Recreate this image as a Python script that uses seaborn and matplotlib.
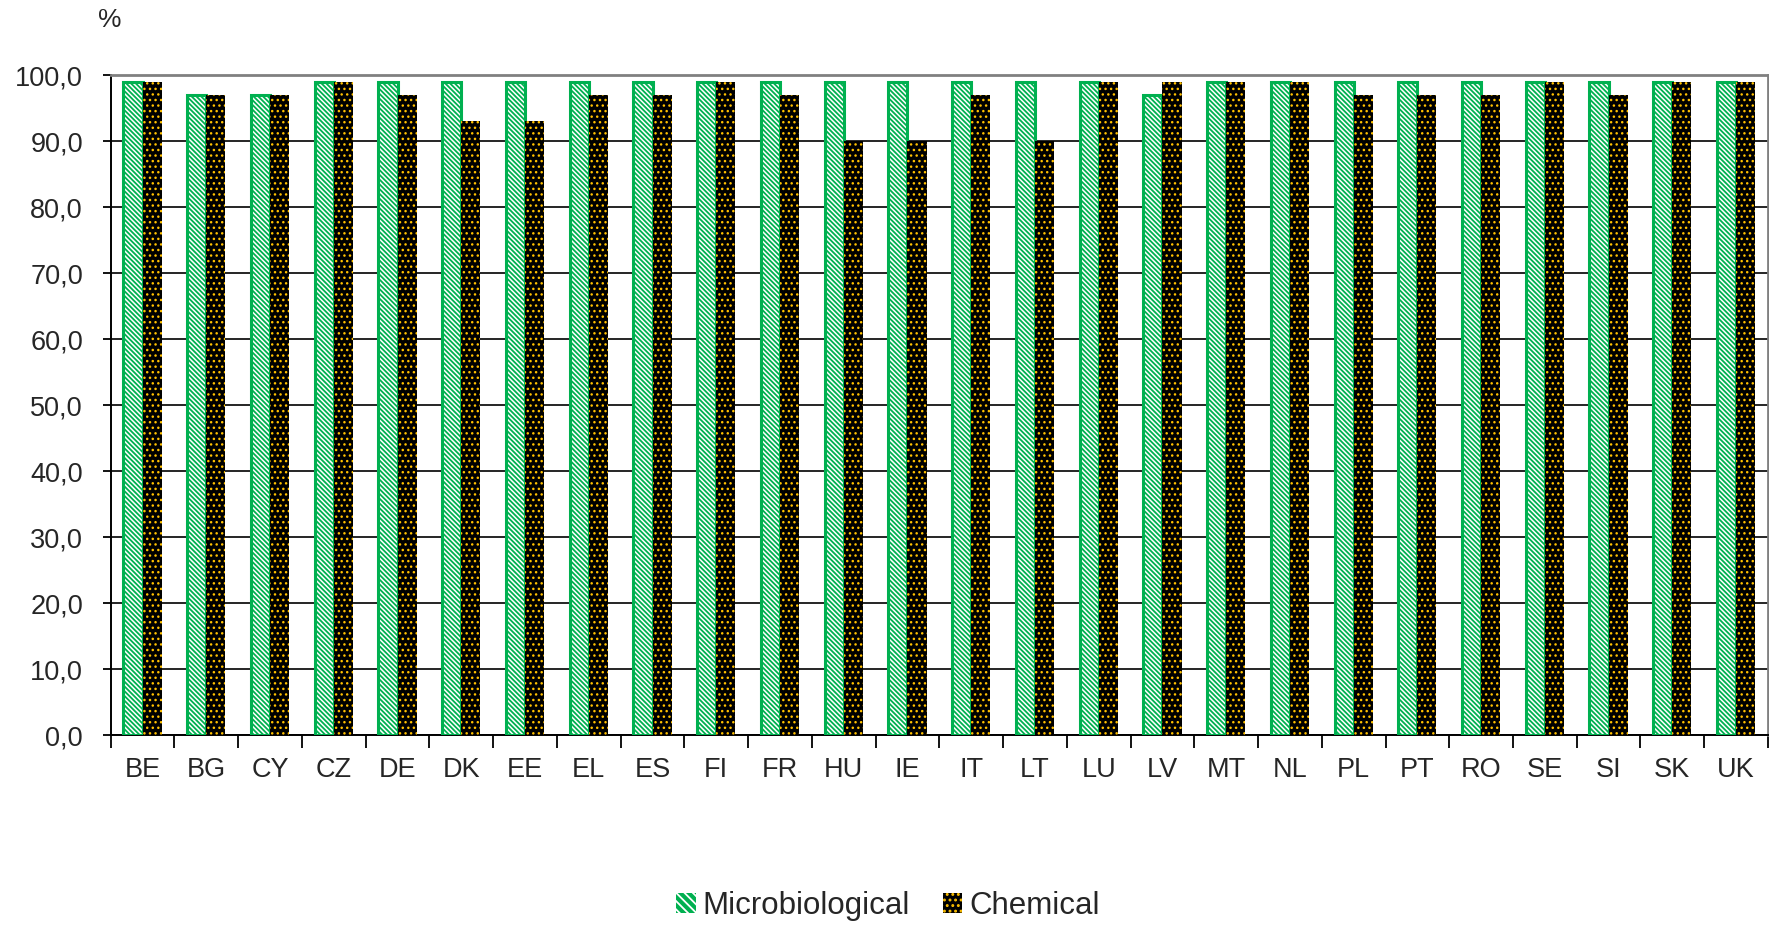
import numpy as np
import pandas as pd
import matplotlib
matplotlib.use("Agg")
import matplotlib.pyplot as plt
from matplotlib.patches import Patch
from matplotlib.ticker import FuncFormatter, MultipleLocator, FixedLocator
import seaborn as sns

# values (%)
countries = ['BE', 'BG', 'CY', 'CZ', 'DE', 'DK', 'EE', 'EL', 'ES', 'FI', 'FR', 'HU', 'IE',
             'IT', 'LT', 'LU', 'LV', 'MT', 'NL', 'PL', 'PT', 'RO', 'SE', 'SI', 'SK', 'UK']
microbiological = [99, 97, 97, 99, 99, 99, 99, 99, 99, 99, 99, 99, 99,
                   99, 99, 99, 97, 99, 99, 99, 99, 99, 99, 99, 99, 99]
chemical = [99, 97, 97, 99, 97, 93, 93, 97, 97, 99, 97, 90, 90,
            97, 90, 99, 99, 99, 99, 97, 97, 97, 99, 97, 99, 99]
series_names = ['Microbiological', 'Chemical']

GREEN = '#00B050'
ORANGE = '#FFC000'

df = pd.DataFrame({
    'country': countries * 2,
    'value': microbiological + chemical,
    'series': [series_names[0]] * len(countries) + [series_names[1]] * len(countries),
})

sns.set_style('white')
plt.rcParams['font.family'] = ['Liberation Sans', 'DejaVu Sans']
plt.rcParams['hatch.linewidth'] = 1.3

fig = plt.figure(figsize=(17.69, 9.25), dpi=100)
ax = fig.add_axes([0.0626, 0.2054, 0.9368, 0.7135])

sns.barplot(data=df, x='country', y='value', hue='series', order=countries,
            hue_order=series_names, palette=['white', 'black'], width=0.6,
            gap=0, saturation=1, legend=False, ax=ax, zorder=3)

# restyle the bars: green hatched / black with orange dots
micro_hatch = '\\' * 7
chem_hatch = '...'
for bar in ax.containers[0]:
    bar.set_facecolor('white')
    bar.set_edgecolor(GREEN)
    bar.set_linewidth(2.2)
    bar.set_hatch(micro_hatch)
    bar.set_hatch_linewidth(1.3)
for bar in ax.containers[1]:
    bar.set_facecolor('black')
    bar.set_edgecolor(ORANGE)
    bar.set_linewidth(0)
    bar.set_hatch(chem_hatch)
    bar.set_hatch_linewidth(1.0)

ax.set_xlim(-0.5, len(countries) - 0.5)
ax.set_ylim(0, 100)
ax.set_xlabel('')
ax.set_ylabel('')

ax.yaxis.set_major_locator(MultipleLocator(10))
ax.yaxis.set_major_formatter(FuncFormatter(lambda v, p: f'{v:.1f}'.replace('.', ',')))
ax.grid(axis='y', color='black', linewidth=1.2, zorder=0)
ax.set_axisbelow(True)

ax.xaxis.set_minor_locator(FixedLocator(np.arange(-0.5, len(countries), 1)))
ax.tick_params(axis='x', which='major', length=0, pad=16, labelsize=19.5)
ax.tick_params(axis='x', which='minor', length=9, width=1.3, color='black', direction='out')
ax.tick_params(axis='y', which='major', length=6, width=1.3, color='black',
               direction='out', pad=14, labelsize=19.5)
ax.tick_params(bottom=True, left=True, which='both')

for side in ['left', 'bottom']:
    ax.spines[side].set_color('black')
    ax.spines[side].set_linewidth(1.4)
for side in ['top', 'right']:
    ax.spines[side].set_color('#808080')
    ax.spines[side].set_linewidth(2)

fig.text(98 / 1769, 1 - 20 / 925, '%', fontsize=19, va='center', ha='left')

micro_handle = Patch(facecolor=GREEN, edgecolor='white', hatch='\\' * 4, linewidth=0)
micro_handle.set_hatch_linewidth(1.3)
chem_handle = Patch(facecolor='black', edgecolor=ORANGE, hatch=chem_hatch, linewidth=0)
chem_handle.set_hatch_linewidth(1.0)
fig.legend([micro_handle, chem_handle], series_names, loc='center',
           bbox_to_anchor=(888 / 1769, 1 - 906 / 925),
           ncol=2, frameon=False, fontsize=22.5, handlelength=0.62, handleheight=0.62,
           handletextpad=0.22, columnspacing=1.05, borderpad=0, borderaxespad=0)

fig.savefig('out.png', dpi=100)
